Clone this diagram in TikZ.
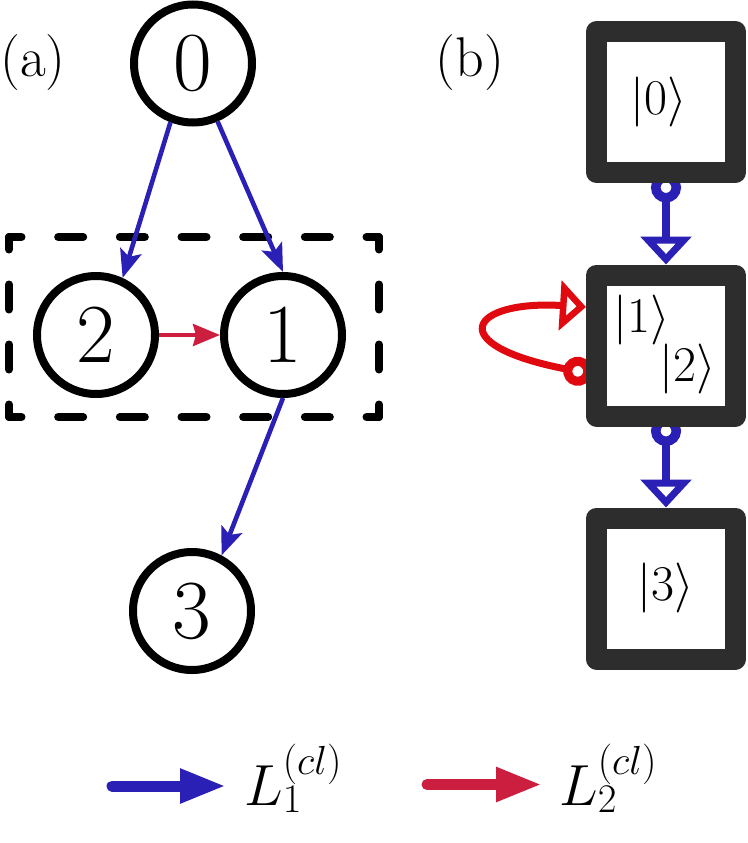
\RequirePackage{fix-cm}
\documentclass[tikz,border=0pt]{standalone}
\usetikzlibrary{arrows.meta,calc}
\definecolor{cblue}{RGB}{43,32,181}
\definecolor{ccrim}{RGB}{204,31,64}
\definecolor{cred}{RGB}{224,9,15}
\definecolor{cgray}{RGB}{45,45,45}
\pgfdeclarelayer{bg}
\pgfsetlayers{bg,main}
\begin{document}
\begin{tikzpicture}[x=1pt,y=-1pt,
  st/.style={circle, draw=black, line width=8pt, minimum size=118pt, inner sep=0pt, font=\fontsize{84}{84}\selectfont},
  bx/.style={rectangle, draw=cgray, line width=21pt, line join=round, minimum width=139pt, minimum height=141pt, inner sep=0pt, outer sep=0pt},
  ket/.style={inner sep=0pt, font=\fontsize{50}{50}\selectfont},
  lab/.style={inner sep=0pt, font=\fontsize{56}{56}\selectfont},
  ablue/.style={draw=cblue, line width=4.6pt, -{Stealth[length=28pt,width=22pt,inset=6pt]}},
  acrim/.style={draw=ccrim, line width=4pt, -{Stealth[length=27pt,width=22pt,inset=3pt]}},
  bblue/.style={draw=cblue, line width=8pt, {Circle[fill=white,length=30pt,width=30pt,line width=9.5pt]}-{Triangle[fill=white,length=28pt,width=50pt,line width=10pt]}},
  bred/.style={draw=cred, line width=7pt, {Circle[fill=white,length=29pt,width=29pt,line width=9pt]}-{Triangle[fill=white,length=26pt,width=49pt,line width=10pt]}},
  dsh/.style={line width=8pt, line cap=round},
  leg/.style={line width=11pt, line cap=round, -{Triangle[length=46pt,width=32pt]}},
  legtxt/.style={anchor=base west, inner sep=0pt, font=\fontsize{58}{58}\selectfont}
]
\useasboundingbox (0,0) rectangle (747,843);

% (a)
\node[lab] (la) at (33,63) {(a)};
\coordinate (r1) at (9,237);
\coordinate (r2) at (379,237);
\coordinate (r3) at (379,417);
\coordinate (r4) at (9,417);
\draw[dsh, dash pattern=on 25pt off 36.67pt, dash phase=12.5pt] (r1) -- (r2);
\draw[dsh, dash pattern=on 25pt off 36.67pt, dash phase=12.5pt] (r4) -- (r3);
\draw[dsh, dash pattern=on 25pt off 35pt, dash phase=12.5pt] (r1) -- (r4);
\draw[dsh, dash pattern=on 25pt off 35pt, dash phase=12.5pt] (r2) -- (r3);
\node[st] (n0) at (193,63.5) {0};
\node[st] (n2) at (96,335) {2};
\node[st] (n1) at (283,335) {1};
\node[st] (n3) at (192,611) {3};
\draw[ablue] (n0.-111) -- (n2.65);
\draw[ablue] (n0.-67) -- (n1.north);
\draw[ablue] (n1.south) -- (n3.62);
\draw[acrim] (n2.east) -- (n1.west);

% (b)
\node[lab] (lb) at (470,63) {(b)};
\node[bx] (b0) at (666,102) {};
\node[bx] (b1) at (666,345.5) {};
\node[bx] (b2) at (666,588.5) {};
\node[ket] (k0) at (659,102) {$|0\rangle$};
\node[ket] (k1) at (642,320) {$|1\rangle$};
\node[ket] (k2) at (688,369) {$|2\rangle$};
\node[ket] (k3) at (666,588) {$|3\rangle$};
\begin{pgfonlayer}{bg}
\draw[bblue] (b0.south) -- ($(b1.north)+(0,-10.5)$);
\draw[bblue] (b1.south) -- ($(b2.north)+(0,-10.5)$);
\draw[bred] ($(b1.west)+(-4.5,28.5)$) .. controls (440,345) and (470,300) .. ($(b1.west)+(-10.5,-38.5)$);
\end{pgfonlayer}

% legend
\coordinate (l1s) at (112,786);
\coordinate (l1e) at (226,786);
\coordinate (l2s) at (427,784.5);
\coordinate (l2e) at (542,784.5);
\draw[leg, cblue] (l1s) -- (l1e);
\draw[leg, ccrim] (l2s) -- (l2e);
\node[legtxt] (t1) at (244,805) {$L_1^{(cl)}$};
\node[legtxt] (t2) at (559,805) {$L_2^{(cl)}$};
\end{tikzpicture}
\end{document}
